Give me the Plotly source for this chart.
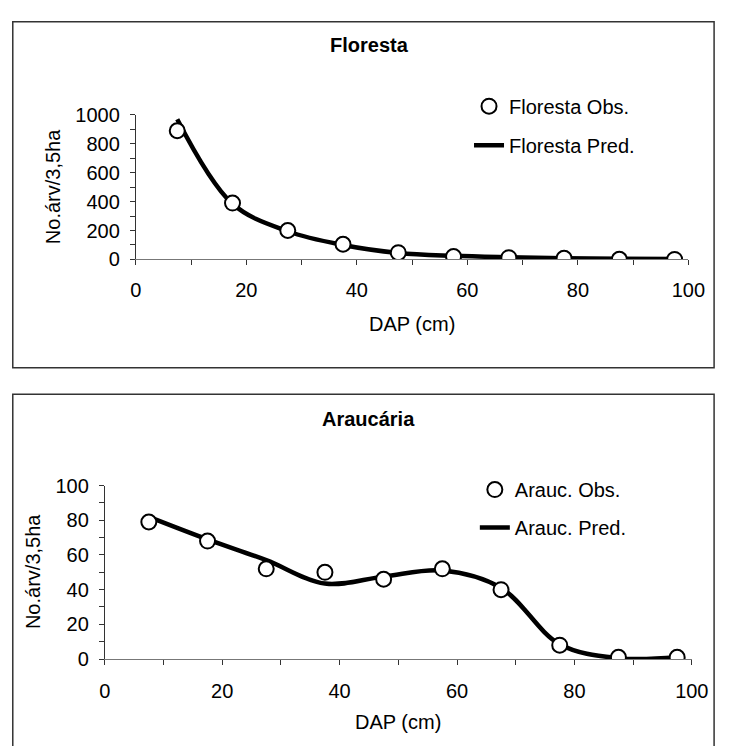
import plotly.graph_objects as go

# ---------------- data ----------------
dap = [7.5, 17.5, 27.5, 37.5, 47.5, 57.5, 67.5, 77.5, 87.5, 97.5]

floresta_obs = [890, 390, 200, 105, 47, 20, 12, 8, 1, 0]
floresta_pred = [970, 385, 195, 100, 45, 25, 15, 8, 5, 3]

arauc_obs = [79, 68, 52, 50, 46, 52, 40, 8, 1, 1]
arauc_pred = [82, 69, 57, 43.5, 47.5, 51, 41, 8.5, 0.5, 1]

x_ticks = [0, 20, 40, 60, 80, 100]
y_ticks_top = [0, 200, 400, 600, 800, 1000]
y_ticks_bottom = [0, 20, 40, 60, 80, 100]

W, H = 734, 746
FONT = "Liberation Sans, Arial, sans-serif"
FS = 20


def px_x(v):
    return v / W


def px_y(v):
    return 1 - v / H


fig = go.Figure()

fig.add_trace(go.Scatter(
    x=dap, y=floresta_pred, mode="lines", name="Floresta Pred.",
    line=dict(color="black", width=4.5, shape="spline", smoothing=1.0),
    xaxis="x", yaxis="y", legend="legend", legendgroup="fp", legendrank=2))
fig.add_trace(go.Scatter(
    x=dap, y=floresta_obs, mode="markers", name="Floresta Obs.",
    marker=dict(symbol="circle", size=15, color="white",
                line=dict(color="black", width=2)),
    xaxis="x", yaxis="y", legend="legend", legendgroup="fo", legendrank=1))

fig.add_trace(go.Scatter(
    x=dap, y=arauc_pred, mode="lines", name="Arauc. Pred.",
    line=dict(color="black", width=4.5, shape="spline", smoothing=1.0),
    xaxis="x2", yaxis="y2", legend="legend2", legendgroup="ap", legendrank=2))
fig.add_trace(go.Scatter(
    x=dap, y=arauc_obs, mode="markers", name="Arauc. Obs.",
    marker=dict(symbol="circle", size=15, color="white",
                line=dict(color="black", width=2)),
    xaxis="x2", yaxis="y2", legend="legend2", legendgroup="ao", legendrank=1))

axis_common = dict(
    showgrid=False, zeroline=False, showline=True, linewidth=1,
    ticks="outside", ticklen=5, tickwidth=1, tickcolor="#333",
    tickfont=dict(family=FONT, size=FS, color="black"),
)

fig.update_layout(
    width=W, height=H,
    margin=dict(l=0, r=0, t=0, b=0),
    paper_bgcolor="white", plot_bgcolor="white",
    font=dict(family=FONT, size=FS, color="black"),
    xaxis=dict(domain=[px_x(134), px_x(704.5)], range=[0, 100],
               tickvals=x_ticks, anchor="y", linecolor="#777",
               minor=dict(dtick=10, ticks="outside", ticklen=5, tickcolor="#333"),
               ticklabelstandoff=8, **axis_common),
    yaxis=dict(domain=[px_y(256), px_y(107)], range=[0, 1000],
               tickvals=y_ticks_top, anchor="x", linecolor="#333",
               minor=dict(dtick=100, ticks="outside", ticklen=5, tickcolor="#333"),
               ticklabelstandoff=6, **axis_common),
    xaxis2=dict(domain=[px_x(102), px_x(708)], range=[0, 100],
                tickvals=x_ticks, anchor="y2", linecolor="#777",
                minor=dict(dtick=10, ticks="outside", ticklen=5, tickcolor="#333"),
                ticklabelstandoff=9, **axis_common),
    yaxis2=dict(domain=[px_y(667.7), px_y(489)], range=[0, 100],
                tickvals=y_ticks_bottom, anchor="x2", linecolor="#333",
                minor=dict(dtick=10, ticks="outside", ticklen=5, tickcolor="#333"),
                ticklabelstandoff=6, **axis_common),
    legend=dict(x=px_x(478), y=px_y(78), xanchor="left", yanchor="top",
                bgcolor="rgba(0,0,0,0)", font=dict(family=FONT, size=FS),
                tracegroupgap=10, traceorder="grouped"),
    legend2=dict(x=px_x(484), y=px_y(473), xanchor="left", yanchor="top",
                 bgcolor="rgba(0,0,0,0)", font=dict(family=FONT, size=FS),
                 tracegroupgap=9, traceorder="grouped"),
    showlegend=True,
)

fig.add_shape(type="rect", xref="paper", yref="paper",
              x0=px_x(7), x1=px_x(731), y0=px_y(367.5), y1=px_y(11),
              line=dict(color="#333", width=1.5), fillcolor="rgba(0,0,0,0)", layer="below")
fig.add_shape(type="rect", xref="paper", yref="paper",
              x0=px_x(7), x1=px_x(731), y0=px_y(760), y1=px_y(395),
              line=dict(color="#333", width=1.5), fillcolor="rgba(0,0,0,0)", layer="below")

annots = [
    dict(text="<b>Floresta</b>", x=px_x(375), y=px_y(35)),
    dict(text="<b>Araucária</b>", x=px_x(374), y=px_y(420)),
    dict(text="DAP (cm)", x=px_x(419), y=px_y(323)),
    dict(text="DAP (cm)", x=px_x(405), y=px_y(733)),
    dict(text="No.árv/3,5ha", x=px_x(48), y=px_y(181), textangle=-90),
    dict(text="No.árv/3,5ha", x=px_x(28), y=px_y(578), textangle=-90),
]
for a in annots:
    fig.add_annotation(xref="paper", yref="paper", showarrow=False,
                       xanchor="center", yanchor="middle",
                       font=dict(family=FONT, size=FS, color="black"), **a)

fig.write_html("out.html",
               config={"displayModeBar": False},
               post_script="document.body.style.margin='0';document.body.style.overflow='hidden';")
